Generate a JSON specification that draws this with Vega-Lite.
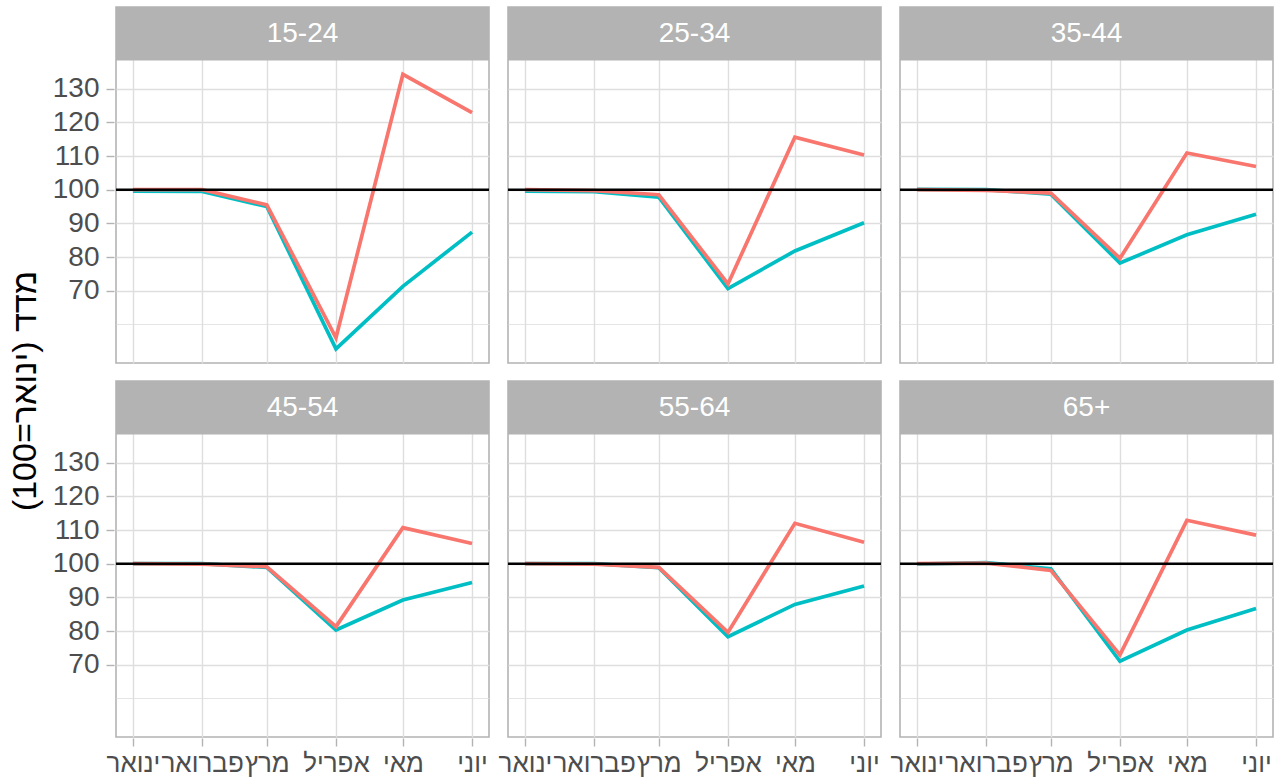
{
  "$schema": "https://vega.github.io/schema/vega-lite/v6.json",
  "background": "white",
  "padding": {"left": 9, "top": 6, "right": 4, "bottom": 4},
  "title": {"text": "‏מדד (ינואר=100)‏", "orient": "left", "anchor": "middle", "fontSize": 34, "font": "Liberation Sans", "fontWeight": "normal", "color": "black", "offset": 9},
  "data": {"values": [
    {"group": "15-24", "series": "A", "date": "2020-01-01T00:00:00", "value": 100},
    {"group": "15-24", "series": "A", "date": "2020-02-01T00:00:00", "value": 100},
    {"group": "15-24", "series": "A", "date": "2020-03-01T00:00:00", "value": 95.5},
    {"group": "15-24", "series": "A", "date": "2020-04-01T00:00:00", "value": 56.0},
    {"group": "15-24", "series": "A", "date": "2020-05-01T00:00:00", "value": 134.3},
    {"group": "15-24", "series": "A", "date": "2020-06-01T00:00:00", "value": 122.9},
    {"group": "15-24", "series": "B", "date": "2020-01-01T00:00:00", "value": 99.6},
    {"group": "15-24", "series": "B", "date": "2020-02-01T00:00:00", "value": 99.5},
    {"group": "15-24", "series": "B", "date": "2020-03-01T00:00:00", "value": 95.0},
    {"group": "15-24", "series": "B", "date": "2020-04-01T00:00:00", "value": 52.7},
    {"group": "15-24", "series": "B", "date": "2020-05-01T00:00:00", "value": 71.3},
    {"group": "15-24", "series": "B", "date": "2020-06-01T00:00:00", "value": 87.4},
    {"group": "25-34", "series": "A", "date": "2020-01-01T00:00:00", "value": 100},
    {"group": "25-34", "series": "A", "date": "2020-02-01T00:00:00", "value": 99.7},
    {"group": "25-34", "series": "A", "date": "2020-03-01T00:00:00", "value": 98.5},
    {"group": "25-34", "series": "A", "date": "2020-04-01T00:00:00", "value": 72.0},
    {"group": "25-34", "series": "A", "date": "2020-05-01T00:00:00", "value": 115.6},
    {"group": "25-34", "series": "A", "date": "2020-06-01T00:00:00", "value": 110.3},
    {"group": "25-34", "series": "B", "date": "2020-01-01T00:00:00", "value": 99.6},
    {"group": "25-34", "series": "B", "date": "2020-02-01T00:00:00", "value": 99.4},
    {"group": "25-34", "series": "B", "date": "2020-03-01T00:00:00", "value": 97.8},
    {"group": "25-34", "series": "B", "date": "2020-04-01T00:00:00", "value": 70.6},
    {"group": "25-34", "series": "B", "date": "2020-05-01T00:00:00", "value": 81.8},
    {"group": "25-34", "series": "B", "date": "2020-06-01T00:00:00", "value": 90.2},
    {"group": "35-44", "series": "A", "date": "2020-01-01T00:00:00", "value": 100},
    {"group": "35-44", "series": "A", "date": "2020-02-01T00:00:00", "value": 99.8},
    {"group": "35-44", "series": "A", "date": "2020-03-01T00:00:00", "value": 99.0},
    {"group": "35-44", "series": "A", "date": "2020-04-01T00:00:00", "value": 79.6},
    {"group": "35-44", "series": "A", "date": "2020-05-01T00:00:00", "value": 110.9},
    {"group": "35-44", "series": "A", "date": "2020-06-01T00:00:00", "value": 106.9},
    {"group": "35-44", "series": "B", "date": "2020-01-01T00:00:00", "value": 100.1},
    {"group": "35-44", "series": "B", "date": "2020-02-01T00:00:00", "value": 100.0},
    {"group": "35-44", "series": "B", "date": "2020-03-01T00:00:00", "value": 98.7},
    {"group": "35-44", "series": "B", "date": "2020-04-01T00:00:00", "value": 78.2},
    {"group": "35-44", "series": "B", "date": "2020-05-01T00:00:00", "value": 86.6},
    {"group": "35-44", "series": "B", "date": "2020-06-01T00:00:00", "value": 92.7},
    {"group": "45-54", "series": "A", "date": "2020-01-01T00:00:00", "value": 100},
    {"group": "45-54", "series": "A", "date": "2020-02-01T00:00:00", "value": 99.9},
    {"group": "45-54", "series": "A", "date": "2020-03-01T00:00:00", "value": 99.1},
    {"group": "45-54", "series": "A", "date": "2020-04-01T00:00:00", "value": 81.3},
    {"group": "45-54", "series": "A", "date": "2020-05-01T00:00:00", "value": 110.7},
    {"group": "45-54", "series": "A", "date": "2020-06-01T00:00:00", "value": 106.0},
    {"group": "45-54", "series": "B", "date": "2020-01-01T00:00:00", "value": 100},
    {"group": "45-54", "series": "B", "date": "2020-02-01T00:00:00", "value": 100},
    {"group": "45-54", "series": "B", "date": "2020-03-01T00:00:00", "value": 98.9},
    {"group": "45-54", "series": "B", "date": "2020-04-01T00:00:00", "value": 80.3},
    {"group": "45-54", "series": "B", "date": "2020-05-01T00:00:00", "value": 89.2},
    {"group": "45-54", "series": "B", "date": "2020-06-01T00:00:00", "value": 94.4},
    {"group": "55-64", "series": "A", "date": "2020-01-01T00:00:00", "value": 100},
    {"group": "55-64", "series": "A", "date": "2020-02-01T00:00:00", "value": 99.9},
    {"group": "55-64", "series": "A", "date": "2020-03-01T00:00:00", "value": 98.9},
    {"group": "55-64", "series": "A", "date": "2020-04-01T00:00:00", "value": 79.6},
    {"group": "55-64", "series": "A", "date": "2020-05-01T00:00:00", "value": 112.0},
    {"group": "55-64", "series": "A", "date": "2020-06-01T00:00:00", "value": 106.4},
    {"group": "55-64", "series": "B", "date": "2020-01-01T00:00:00", "value": 100},
    {"group": "55-64", "series": "B", "date": "2020-02-01T00:00:00", "value": 100},
    {"group": "55-64", "series": "B", "date": "2020-03-01T00:00:00", "value": 98.8},
    {"group": "55-64", "series": "B", "date": "2020-04-01T00:00:00", "value": 78.3},
    {"group": "55-64", "series": "B", "date": "2020-05-01T00:00:00", "value": 87.9},
    {"group": "55-64", "series": "B", "date": "2020-06-01T00:00:00", "value": 93.4},
    {"group": "65+", "series": "A", "date": "2020-01-01T00:00:00", "value": 100},
    {"group": "65+", "series": "A", "date": "2020-02-01T00:00:00", "value": 100.2},
    {"group": "65+", "series": "A", "date": "2020-03-01T00:00:00", "value": 98.0},
    {"group": "65+", "series": "A", "date": "2020-04-01T00:00:00", "value": 72.9},
    {"group": "65+", "series": "A", "date": "2020-05-01T00:00:00", "value": 112.9},
    {"group": "65+", "series": "A", "date": "2020-06-01T00:00:00", "value": 108.5},
    {"group": "65+", "series": "B", "date": "2020-01-01T00:00:00", "value": 99.9},
    {"group": "65+", "series": "B", "date": "2020-02-01T00:00:00", "value": 100.3},
    {"group": "65+", "series": "B", "date": "2020-03-01T00:00:00", "value": 98.5},
    {"group": "65+", "series": "B", "date": "2020-04-01T00:00:00", "value": 71.0},
    {"group": "65+", "series": "B", "date": "2020-05-01T00:00:00", "value": 80.3},
    {"group": "65+", "series": "B", "date": "2020-06-01T00:00:00", "value": 86.7}
  ]},
  "facet": {"field": "group", "type": "nominal", "sort": ["15-24", "25-34", "35-44", "45-54", "55-64", "65+"], "header": {"title": null, "labels": false, "labelExpr": "''", "labelFontSize": 0.1, "labelPadding": 0, "titlePadding": 0}},
  "columns": 3,
  "spacing": {"row": 16, "column": 15},
  "spec": {
    "width": 373,
    "height": 356,
    "layer": [
      {
        "transform": [{"filter": "datum.series == 'A' && month(datum.date) == 0"}],
        "mark": {"type": "rect", "fill": "#B3B3B3", "stroke": null},
        "encoding": {
          "x": {"datum": {"year": 2019, "month": 12, "date": 24, "hours": 9, "minutes": 36}, "type": "temporal",
            "scale": {"domain": [{"year": 2019, "month": 12, "date": 24, "hours": 9, "minutes": 36}, {"year": 2020, "month": 6, "date": 8, "hours": 14, "minutes": 24}], "nice": false},
            "axis": {
              "title": null,
              "domain": false,
              "values": [
                {"year": 2020, "month": 1, "date": 1},
                {"year": 2020, "month": 1, "date": 16, "hours": 12},
                {"year": 2020, "month": 2, "date": 1},
                {"year": 2020, "month": 2, "date": 15, "hours": 12},
                {"year": 2020, "month": 3, "date": 1},
                {"year": 2020, "month": 3, "date": 16, "hours": 12},
                {"year": 2020, "month": 4, "date": 1},
                {"year": 2020, "month": 4, "date": 16},
                {"year": 2020, "month": 5, "date": 1},
                {"year": 2020, "month": 5, "date": 16, "hours": 12},
                {"year": 2020, "month": 6, "date": 1}
              ],
              "labelExpr": "date(datum.value) == 1 ? ['ינואר','פברואר','מרץ','אפריל','מאי','יוני'][month(datum.value)] : ''",
              "labelOverlap": false,
              "labelFlush": false,
              "labelBound": false,
              "labelFont": "Liberation Sans",
              "labelFontSize": 26,
              "labelColor": "#4D4D4D",
              "labelPadding": 4,
              "tickSize": 8,
              "tickColor": "#B3B3B3",
              "tickWidth": 1.4,
              "tickOpacity": {"condition": {"test": "date(datum.value) != 1", "value": 0}, "value": 1},
              "grid": true,
              "gridColor": "#DEDEDE",
              "gridWidth": {"condition": {"test": "date(datum.value) == 1", "value": 1.4}, "value": 0.8}
            }
          },
          "x2": {"datum": {"year": 2020, "month": 6, "date": 8, "hours": 14, "minutes": 24}},
          "y": {"datum": 138.4, "type": "quantitative",
            "scale": {"domain": [48.5, 154.3], "nice": false, "zero": false},
            "axis": {
              "title": null,
              "domain": false,
              "values": [60, 65, 70, 75, 80, 85, 90, 95, 100, 105, 110, 115, 120, 125, 130, 135],
              "labelExpr": "(datum.value >= 70 && datum.value <= 130 && datum.value % 10 == 0) ? datum.label : ''",
              "labelFont": "Liberation Sans",
              "labelFontSize": 28,
              "labelColor": "#4D4D4D",
              "labelPadding": 7,
              "tickSize": 8,
              "tickColor": "#B3B3B3",
              "tickWidth": 1.4,
              "tickOpacity": {"condition": {"test": "datum.value < 70 || datum.value > 130 || datum.value % 10 != 0", "value": 0}, "value": 1},
              "grid": true,
              "gridColor": "#DEDEDE",
              "gridWidth": {"condition": {"test": "datum.value >= 70 && datum.value % 10 == 0", "value": 1.4}, "value": 0.8}
            }
          },
          "y2": {"datum": 154.3}
        }
      },
      {
        "transform": [{"filter": "datum.series == 'A' && month(datum.date) == 0"}],
        "mark": {"type": "text", "color": "white", "fontSize": 28, "font": "Liberation Sans", "align": "center", "baseline": "middle"},
        "encoding": {
          "x": {"datum": {"year": 2020, "month": 3, "date": 17}, "type": "temporal"},
          "y": {"datum": 146.35, "type": "quantitative"},
          "text": {"field": "group", "type": "nominal"}
        }
      },
      {
        "transform": [{"filter": "datum.series == 'B'"}],
        "mark": {"type": "line", "color": "#00BFC4", "strokeWidth": 3.7},
        "encoding": {
          "x": {"field": "date", "type": "temporal"},
          "y": {"field": "value", "type": "quantitative"}
        }
      },
      {
        "transform": [{"filter": "datum.series == 'A'"}],
        "mark": {"type": "line", "color": "#F8766D", "strokeWidth": 3.7},
        "encoding": {
          "x": {"field": "date", "type": "temporal"},
          "y": {"field": "value", "type": "quantitative"}
        }
      },
      {
        "transform": [{"filter": "datum.series == 'A' && month(datum.date) == 0"}],
        "mark": {"type": "rule", "color": "black", "strokeWidth": 2.4},
        "encoding": {
          "y": {"datum": 100, "type": "quantitative"}
        }
      }
    ]
  },
  "config": {
    "view": {"stroke": "#B3B3B3", "strokeWidth": 1.6},
    "font": "Liberation Sans",
    "header": {"labels": false, "title": null, "labelPadding": 0, "titlePadding": 0}
  }
}
